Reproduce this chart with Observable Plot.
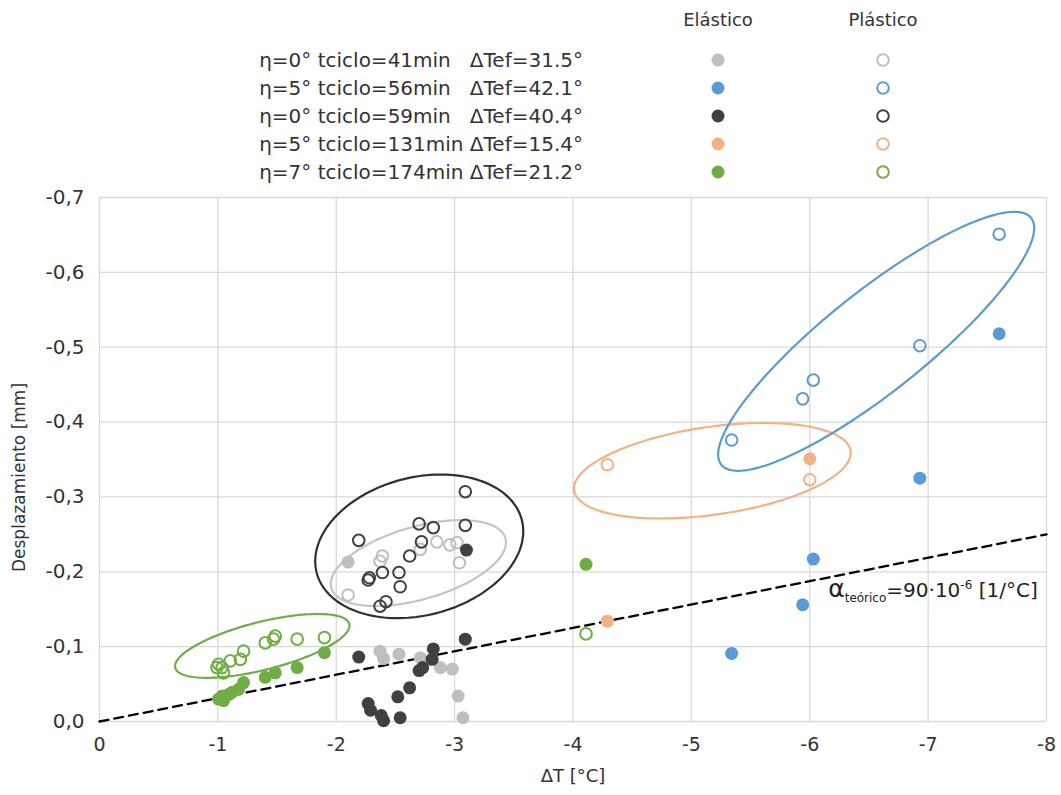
<!DOCTYPE html>
<html>
<head>
<meta charset="utf-8">
<script src="https://cdn.jsdelivr.net/npm/d3@7"></script>
<script src="https://cdn.jsdelivr.net/npm/@observablehq/plot@0.6"></script>
<style>
  html, body { margin: 0; padding: 0; background: #ffffff; }
  #wrap { position: relative; width: 1061px; height: 795px; font-family: "DejaVu Sans", sans-serif; }
  #legend { position: absolute; left: 0; top: 0; z-index: 2; }
  #legend svg { overflow: visible; }
  #chart { position: absolute; left: 0; top: 180px; z-index: 1; }
</style>
</head>
<body>
<div id="wrap"><div id="legend"></div><div id="chart"></div></div>
<script>
// ---------- Series labels, colours, legend headers ----------
const seriesLabels = [
  "η=0° tciclo=41min   ΔTef=31.5°",
  "η=5° tciclo=56min   ΔTef=42.1°",
  "η=0° tciclo=59min   ΔTef=40.4°",
  "η=5° tciclo=131min ΔTef=15.4°",
  "η=7° tciclo=174min ΔTef=21.2°"
];
const seriesColors = ["#bfbfbf", "#5b9bd5", "#404040", "#f4b183", "#70ad47"];
const ellipseColors = ["#c4c4c4", "#5b9bd5", "#303030", "#f4b183", "#70ad47"];
const legendHeaders = ["Elástico", "Plástico"];

// ---------- Axis ticks / labels ----------
const xTicks = [0, -1, -2, -3, -4, -5, -6, -7, -8];
const yTicks = [0, -0.1, -0.2, -0.3, -0.4, -0.5, -0.6, -0.7];
const xLabel = "ΔT [°C]";
const yLabel = "Desplazamiento [mm]";

// ---------- Data: ΔT [°C] and Desplazamiento [mm] ----------
// Series 0: η=0° tciclo=41min (gray)
const s0ElasticoDT   = [-2.10, -2.37, -2.40, -2.53, -2.71, -2.88, -2.98, -3.03, -3.07];
const s0ElasticoDesp = [-0.213, -0.094, -0.084, -0.090, -0.085, -0.072, -0.070, -0.034, -0.005];
const s0PlasticoDT   = [-2.10, -2.37, -2.39, -2.71, -2.85, -2.96, -3.02, -3.04];
const s0PlasticoDesp = [-0.169, -0.214, -0.221, -0.230, -0.240, -0.236, -0.239, -0.212];

// Series 1: η=5° tciclo=56min (blue)
const s1ElasticoDT   = [-7.60, -6.93, -6.03, -5.94, -5.34];
const s1ElasticoDesp = [-0.518, -0.325, -0.217, -0.156, -0.091];
const s1PlasticoDT   = [-7.60, -6.93, -6.03, -5.94, -5.34];
const s1PlasticoDesp = [-0.651, -0.502, -0.456, -0.431, -0.376];

// Series 2: η=0° tciclo=59min (black)
const s2ElasticoDT   = [-3.10, -2.19, -3.09, -2.82, -2.81, -2.73, -2.70, -2.62, -2.52, -2.27, -2.29, -2.38, -2.40, -2.54];
const s2ElasticoDesp = [-0.229, -0.086, -0.110, -0.097, -0.083, -0.072, -0.068, -0.045, -0.033, -0.024, -0.015, -0.008, -0.001, -0.005];
const s2PlasticoDT   = [-3.09, -3.09, -2.70, -2.82, -2.72, -2.19, -2.62, -2.39, -2.28, -2.27, -2.53, -2.54, -2.42, -2.37];
const s2PlasticoDesp = [-0.307, -0.262, -0.264, -0.259, -0.240, -0.242, -0.221, -0.199, -0.192, -0.189, -0.199, -0.180, -0.160, -0.154];

// Series 3: η=5° tciclo=131min (orange)
const s3ElasticoDT   = [-6.00, -4.29];
const s3ElasticoDesp = [-0.351, -0.134];
const s3PlasticoDT   = [-6.00, -4.29];
const s3PlasticoDesp = [-0.323, -0.343];

// Series 4: η=7° tciclo=174min (green)
const s4ElasticoDT   = [-1.006, -1.048, -1.035, -1.09, -1.12, -1.175, -1.217, -1.40, -1.485, -1.67, -1.90, -4.11];
const s4ElasticoDesp = [-0.030, -0.028, -0.034, -0.036, -0.039, -0.043, -0.052, -0.059, -0.065, -0.072, -0.092, -0.210];
const s4PlasticoDT   = [-1.006, -1.035, -1.048, -0.992, -1.105, -1.19, -1.217, -1.40, -1.485, -1.47, -1.67, -1.90, -4.11];
const s4PlasticoDesp = [-0.0765, -0.072, -0.065, -0.072, -0.081, -0.083, -0.094, -0.105, -0.114, -0.110, -0.110, -0.112, -0.117];

// ---------- Theoretical line (α = 90·10^-6 1/°C) ----------
const theoryDT   = [0, -8];
const theoryDesp = [0, -0.25];
const annotDT = -6.16, annotDesp = -0.166;

// ---------- Ellipses (center, semi-axis vectors, in data units) ----------
const ellipseSeries = [0, 2, 3, 1, 4];
const ellipseCx = [-2.694, -2.701, -5.177, -6.561, -1.375];
const ellipseCy = [-0.2116, -0.234, -0.335, -0.5079, -0.101];
const ellipseAx = [-0.735, -0.8665, -1.168, -1.3085, -0.735];
const ellipseAy = [-0.0333, -0.0353, -0.0264, -0.1649, -0.0293];
const ellipseBx = [-0.0845, -0.146, -0.0524, -0.2646, -0.050];
const ellipseBy = [0.0467, 0.0892, 0.0581, 0.0523, 0.031];

// ---------- Build tables ----------
const groups = [
  [s0ElasticoDT, s0ElasticoDesp, s0PlasticoDT, s0PlasticoDesp],
  [s1ElasticoDT, s1ElasticoDesp, s1PlasticoDT, s1PlasticoDesp],
  [s2ElasticoDT, s2ElasticoDesp, s2PlasticoDT, s2PlasticoDesp],
  [s3ElasticoDT, s3ElasticoDesp, s3PlasticoDT, s3PlasticoDesp],
  [s4ElasticoDT, s4ElasticoDesp, s4PlasticoDT, s4PlasticoDesp]
];
const toRows = (xs, ys) => xs.map((x, i) => ({dt: x, desp: ys[i]}));

const ellipseRows = ellipseSeries.map((s, k) => {
  const pts = [];
  const n = 160;
  for (let i = 0; i <= n; i++) {
    const t = (i / n) * 2 * Math.PI;
    pts.push({
      dt: ellipseCx[k] + ellipseAx[k] * Math.cos(t) + ellipseBx[k] * Math.sin(t),
      desp: ellipseCy[k] + ellipseAy[k] * Math.cos(t) + ellipseBy[k] * Math.sin(t)
    });
  }
  return {s, pts};
});

const FONT = "DejaVu Sans";
const TXT = "#333333";

const marks = [
  Plot.gridX(xTicks, {stroke: "#d9d9d9", strokeOpacity: 1, strokeWidth: 1.3}),
  Plot.gridY(yTicks, {stroke: "#d9d9d9", strokeOpacity: 1, strokeWidth: 1.3}),
  Plot.axisX(xTicks, {tickSize: 0, tickPadding: 16, fontSize: 19, fill: TXT, label: null,
    tickFormat: d => d === 0 ? "0" : "-" + Math.abs(d)}),
  Plot.axisY(yTicks, {tickSize: 0, tickPadding: 15, fontSize: 20, fill: TXT, label: null,
    tickFormat: d => (d === 0 ? "0,0" : "-" + Math.abs(d).toFixed(1).replace(".", ","))}),
  Plot.text([xLabel], {frameAnchor: "bottom", dy: 55, fontSize: 18, fill: TXT, lineAnchor: "middle", textAnchor: "middle"}),
  Plot.text([yLabel], {frameAnchor: "left", dx: -80, dy: 18, rotate: -90, fontSize: 17, fill: TXT, lineAnchor: "middle", textAnchor: "middle"})
];

ellipseRows.forEach(e => {
  marks.push(Plot.line(e.pts, {x: "dt", y: "desp", stroke: ellipseColors[e.s], strokeWidth: 2.2, curve: "linear"}));
});

marks.push(Plot.line(toRows(theoryDT, theoryDesp), {x: "dt", y: "desp", stroke: "#000000", strokeWidth: 2.3, strokeDasharray: "9,6"}));

groups.forEach((g, s) => {
  marks.push(Plot.dot(toRows(g[0], g[1]), {x: "dt", y: "desp", r: 6.5, fill: seriesColors[s], stroke: "none"}));
  marks.push(Plot.dot(toRows(g[2], g[3]), {x: "dt", y: "desp", r: 5.8, fill: "none", stroke: seriesColors[s], strokeWidth: 2}));
});

const chart = Plot.plot({
  width: 1061,
  height: 615,
  marginTop: 17,
  marginBottom: 74,
  marginLeft: 99,
  marginRight: 15,
  style: {fontFamily: FONT, background: "transparent", overflow: "visible"},
  x: {domain: [0, -8], label: null},
  y: {domain: [0, -0.7], label: null},
  marks
});
document.getElementById("chart").appendChild(chart);

// Annotation with subscript / superscript
const sx = chart.scale("x"), sy = chart.scale("y");
const ann = d3.select(chart).append("text")
  .attr("x", sx.apply(annotDT)).attr("y", sy.apply(annotDesp))
  .attr("text-anchor", "start")
  .style("font-family", FONT).style("fill", "#222222");
ann.append("tspan").style("font-size", "25px").text("α");
ann.append("tspan").style("font-size", "12px").attr("dy", 5).text("teórico");
ann.append("tspan").style("font-size", "20px").attr("dy", -5).text("=90·10");
ann.append("tspan").style("font-size", "12px").attr("dy", -8).text("-6");
ann.append("tspan").style("font-size", "20px").attr("dy", 8).text(" [1/°C]");

// ---------- Legend (above the chart) ----------
const leg = d3.select("#legend").append("svg").attr("width", 1061).attr("height", 188)
  .style("font-family", FONT);
const colX = [718, 883];
legendHeaders.forEach((h, j) => {
  leg.append("text").attr("x", colX[j]).attr("y", 20).attr("dy", "0.35em")
    .attr("text-anchor", "middle").style("font-size", "18px").attr("fill", TXT).text(h);
});
seriesLabels.forEach((lab, i) => {
  const yy = 60 + i * 28;
  leg.append("text").attr("x", 583).attr("y", yy).attr("dy", "0.35em")
    .attr("text-anchor", "end").style("font-size", "20px").attr("fill", TXT)
    .style("white-space", "pre").text(lab);
  leg.append("circle").attr("cx", colX[0]).attr("cy", yy).attr("r", 6.5).attr("fill", seriesColors[i]);
  leg.append("circle").attr("cx", colX[1]).attr("cy", yy).attr("r", 5.8).attr("fill", "none")
    .attr("stroke", seriesColors[i]).attr("stroke-width", 2);
});
</script>
</body>
</html>
